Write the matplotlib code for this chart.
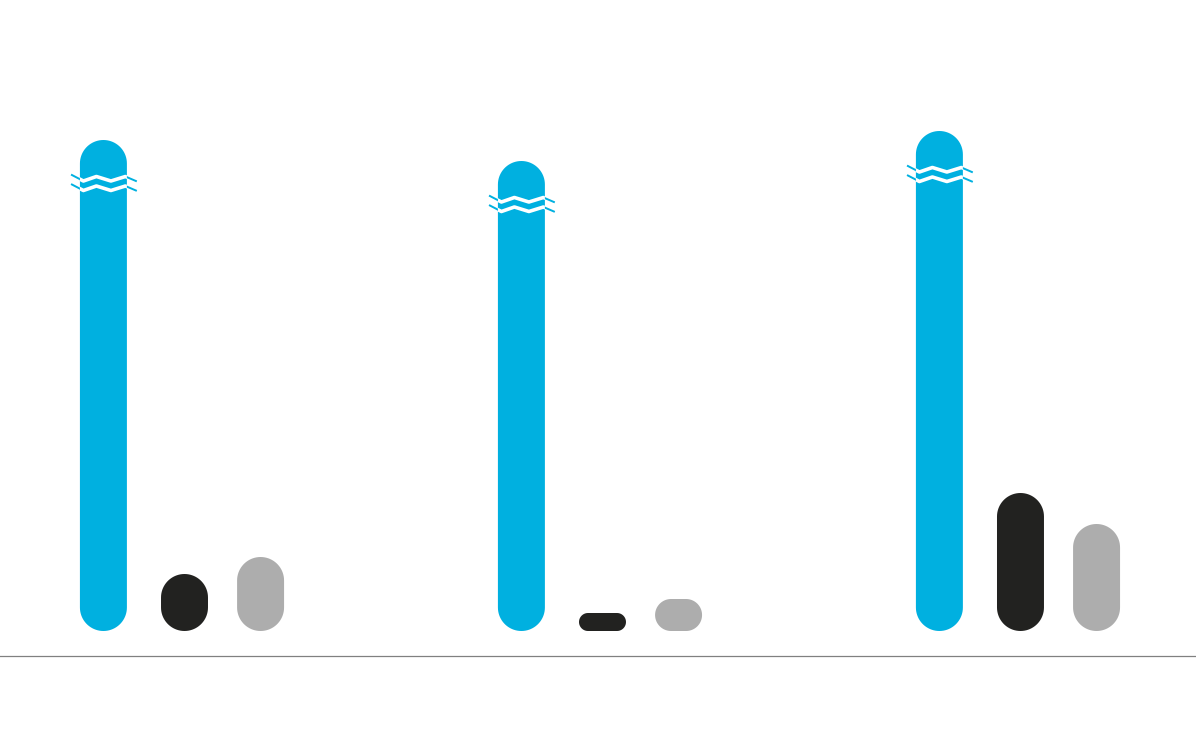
import numpy as np
import matplotlib.pyplot as plt
from matplotlib.patches import Polygon

# three groups, no labels shown in the chart
groups = [0, 1, 2]
blue_vals = [49.1, 47.0, 50.0]   # broken (truncated) bars
black_vals = [5.7, 1.8, 13.8]
gray_vals = [7.4, 3.2, 10.7]

BLUE = "#00B0E0"
BLACK = "#222220"
GRAY = "#ADADAD"

fig = plt.figure(figsize=(11.96, 7.40), dpi=100)
ax = fig.add_axes([0, 0, 1, 1])
x0, x1 = -0.4414, 2.4199
y0, y1 = -10.9, 63.1
ax.set_xlim(x0, x1)
ax.set_ylim(y0, y1)
ax.axis("off")

px_x = (x1 - x0) / 1196
px_y = (y1 - y0) / 740
bar_w = 0.1124


def rounded_bar(x, h, color):
    # rounded rectangle with true circular corners (in pixel space)
    w_px = bar_w / px_x
    h_px = h / px_y
    r = min(w_px / 2, h_px / 2)
    t = np.linspace(0, np.pi / 2, 20)
    pts = []
    corners = [(w_px / 2 - r, h_px - r, 0), (-w_px / 2 + r, h_px - r, np.pi / 2),
               (-w_px / 2 + r, r, np.pi), (w_px / 2 - r, r, 1.5 * np.pi)]
    for cx, cy, a0 in corners:
        for a in a0 + t:
            pts.append((x + (cx + r * np.cos(a)) * px_x, (cy + r * np.sin(a)) * px_y))
    p = Polygon(pts, closed=True, fc=color, ec="none")
    ax.add_patch(p)
    return p


# shape of the break mark, in pixels relative to bar centre
wave_dx = np.array([-31.5, -20, -7, 7.5, 22, 32.5]) * px_x
wave_dy = np.array([-3.5, 2.5, -2, 2.5, -2, 2.5]) * px_y

for g, b, k, s in zip(groups, blue_vals, black_vals, gray_vals):
    xb = g - 0.194
    patch = rounded_bar(xb, b, BLUE)
    rounded_bar(g, k, BLACK)
    rounded_bar(g + 0.182, s, GRAY)

    for off in (38.5, 48):
        yc = b - off * px_y
        xs = xb + wave_dx
        ys = yc - wave_dy
        ax.plot(xs, ys, color=BLUE, lw=1.4, solid_joinstyle="round")
        wl, = ax.plot(xs, ys, color="white", lw=2.6, solid_joinstyle="round")
        wl.set_clip_path(patch)

ax.axhline(-2.5, color="#808080", lw=0.9)

fig.savefig("out.png", dpi=100)
